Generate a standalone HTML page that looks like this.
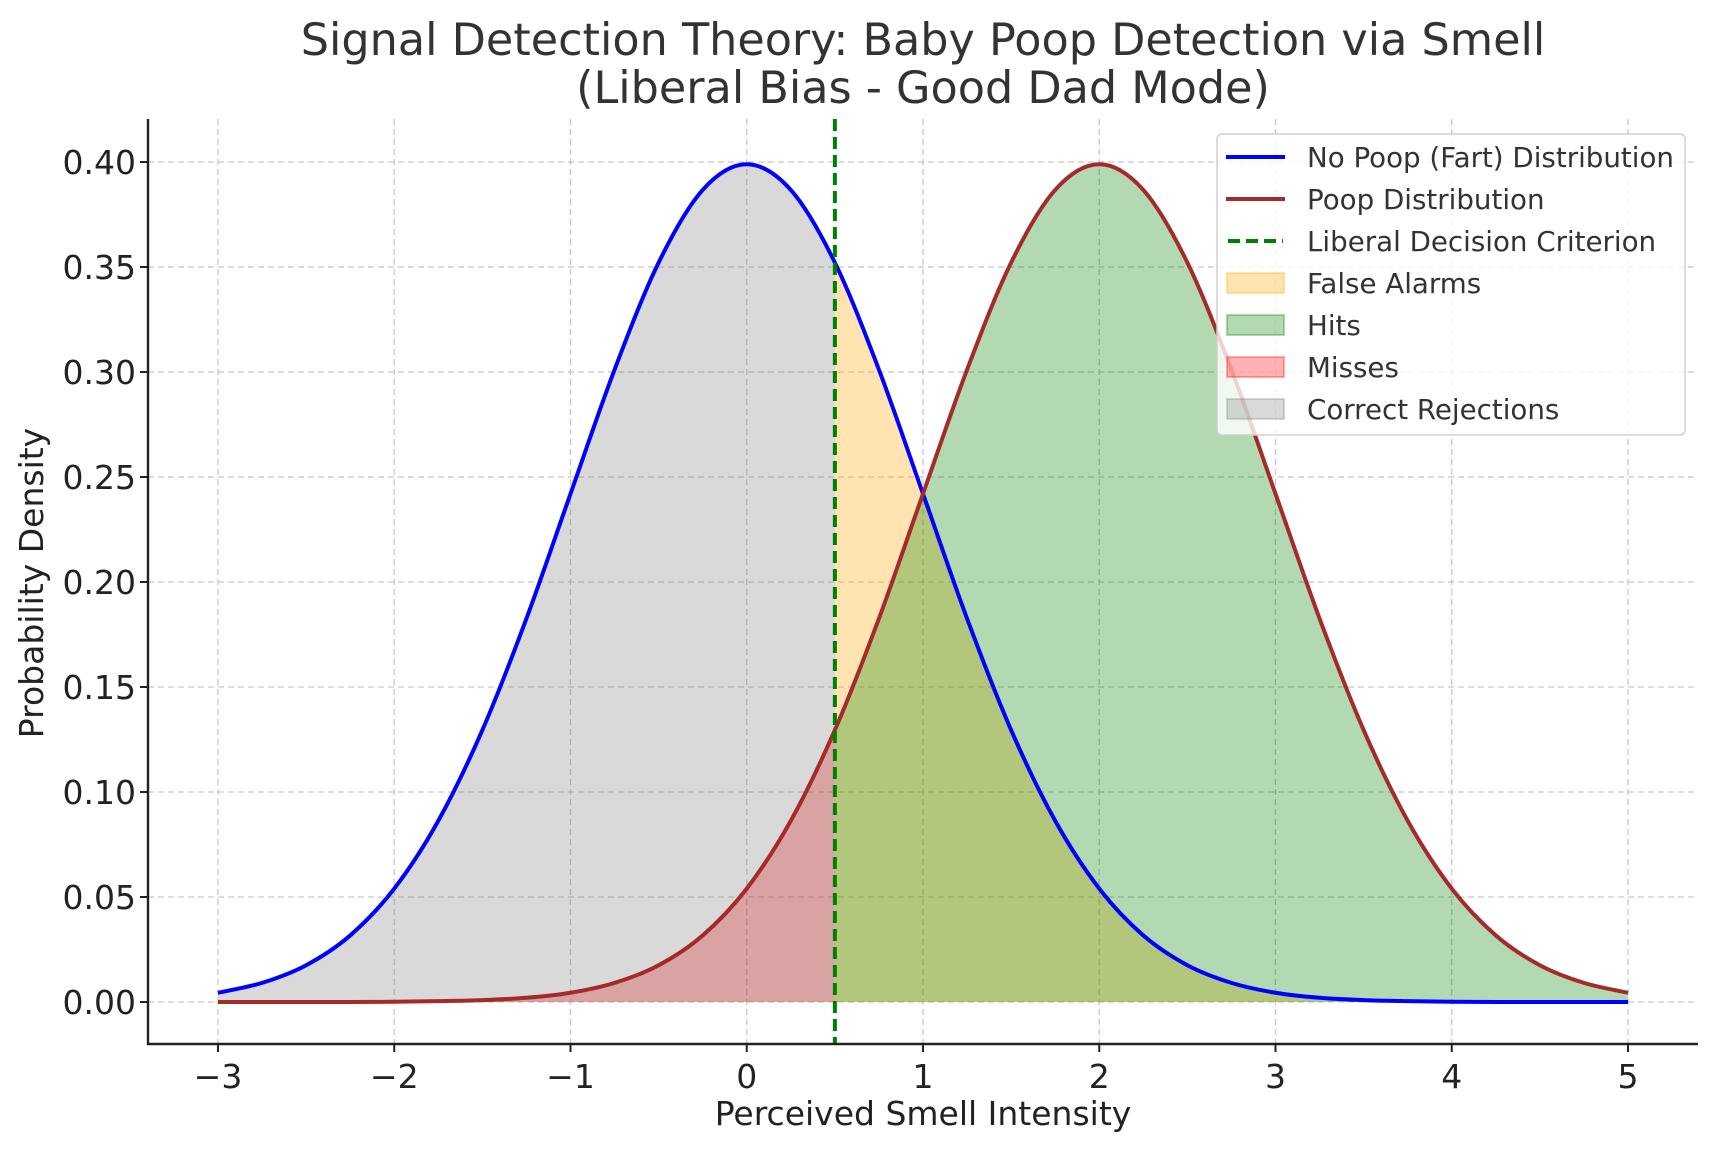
<!DOCTYPE html>
<html><head><meta charset="utf-8"><style>
html,body{margin:0;padding:0;background:#fff}
svg{display:block;font-family:"DejaVu Sans","Liberation Sans",sans-serif}
</style></head><body>
<svg id="chart" width="1718" height="1151" viewBox="0 0 1718 1151">
<text x="923" y="55" text-anchor="middle" font-size="44.5" fill="#333">Signal Detection Theory: Baby Poop Detection via Smell</text>
<text x="923" y="103" text-anchor="middle" font-size="44.5" fill="#333">(Liberal Bias - Good Dad Mode)</text>
<g id="grid"></g><g id="fills"></g><g id="lines"></g><g id="axes"></g>
<text x="923" y="1125" text-anchor="middle" font-size="33" fill="#222">Perceived Smell Intensity</text>
<text transform="translate(43,583) rotate(-90)" text-anchor="middle" font-size="33" fill="#222">Probability Density</text>
<g id="legend"></g>
</svg>
<script>
const xGrid=[-3,-2.75,-2.5,-2.25,-2,-1.75,-1.5,-1.25,-1,-0.75,-0.5,-0.25,0,0.25,0.5,0.75,1,1.25,1.5,1.75,2,2.25,2.5,2.75,3,3.25,3.5,3.75,4,4.25,4.5,4.75,5];
const noPoop=[0.0044,0.0091,0.0175,0.0317,0.0540,0.0863,0.1295,0.1826,0.2420,0.3011,0.3521,0.3867,0.3989,0.3867,0.3521,0.3011,0.2420,0.1826,0.1295,0.0863,0.0540,0.0317,0.0175,0.0091,0.0044,0.0020,0.0009,0.0004,0.0001,0.0000,0.0000,0.0000,0.0000];
const poop=[0.0000,0.0000,0.0000,0.0000,0.0001,0.0004,0.0009,0.0020,0.0044,0.0091,0.0175,0.0317,0.0540,0.0863,0.1295,0.1826,0.2420,0.3011,0.3521,0.3867,0.3989,0.3867,0.3521,0.3011,0.2420,0.1826,0.1295,0.0863,0.0540,0.0317,0.0175,0.0091,0.0044];
const criterion=[0.5];
const xTicks=[-3,-2,-1,0,1,2,3,4,5];
const xTickLabels=["\u22123","\u22122","\u22121","0","1","2","3","4","5"];
const yTicks=[0,0.05,0.1,0.15,0.2,0.25,0.3,0.35,0.4];
const yTickLabels=["0.00","0.05","0.10","0.15","0.20","0.25","0.30","0.35","0.40"];

const L=148,R=1698,T=119,B=1044;
const X=v=>218+(v+3)*176.25;
const Y=v=>1002-v*2100;
const NS="http://www.w3.org/2000/svg";
function mk(tag,attrs,parent){const e=document.createElementNS(NS,tag);for(const k in attrs)e.setAttribute(k,attrs[k]);parent.appendChild(e);return e;}
const grid=document.getElementById('grid'),fills=document.getElementById('fills'),lines=document.getElementById('lines'),axes=document.getElementById('axes'),legend=document.getElementById('legend');

xTicks.forEach((t,i)=>{
  const g=mk('line',{x1:X(t),x2:X(t),y1:T,y2:B,stroke:'#c8c8c8','stroke-width':1.3,'stroke-dasharray':'6,4'},grid);
  
  
  const tk=mk('line',{x1:X(t),x2:X(t),y1:B,y2:B+8,stroke:'#222','stroke-width':2},axes);
  
  
  const tx=mk('text',{x:X(t),y:B+44,'text-anchor':'middle','font-size':33,fill:'#222'},axes);
  tx.textContent=xTickLabels[i];
  
  
});
yTicks.forEach((t,i)=>{
  const g=mk('line',{x1:L,x2:R,y1:Y(t),y2:Y(t),stroke:'#c8c8c8','stroke-width':1.3,'stroke-dasharray':'6,4'},grid);
  
  
  const tk=mk('line',{x1:L-8,x2:L,y1:Y(t),y2:Y(t),stroke:'#222','stroke-width':2},axes);
  
  
  const tx=mk('text',{x:L-12,y:Y(t)+12,'text-anchor':'end','font-size':33,fill:'#222'},axes);
  tx.textContent=yTickLabels[i];
  
  
});
const sp1=mk('line',{x1:L,x2:L,y1:T,y2:B+1,stroke:'#222','stroke-width':2.4},axes);


const sp2=mk('line',{x1:L-1,x2:R,y1:B,y2:B,stroke:'#222','stroke-width':2.4},axes);



function smooth(pts){
  let d=`M${pts[0][0]},${pts[0][1]}`;
  for(let i=0;i<pts.length-1;i++){
    const p0=pts[Math.max(i-1,0)],p1=pts[i],p2=pts[i+1],p3=pts[Math.min(i+2,pts.length-1)];
    const c1=[p1[0]+(p2[0]-p0[0])/6,p1[1]+(p2[1]-p0[1])/6];
    const c2=[p2[0]-(p3[0]-p1[0])/6,p2[1]-(p3[1]-p1[1])/6];
    d+=` C${c1[0]},${c1[1]} ${c2[0]},${c2[1]} ${p2[0]},${p2[1]}`;
  }
  return d;
}
function pts(ys,cond){const p=[];xGrid.forEach((x,i)=>{if(cond(x))p.push([X(x),Y(ys[i])]);});return p;}
function area(ys,cond,color,name){
  const p=pts(ys,cond);
  const d=smooth(p)+` L${p[p.length-1][0]},${Y(0)} L${p[0][0]},${Y(0)} Z`;
  const e=mk('path',{d:d,fill:color,'fill-opacity':0.3,stroke:'none'},fills);
  
  
}
const c=criterion[0];
area(noPoop,x=>x>=c,'#ffa500','false-alarms-area');
area(poop,x=>x>=c,'#008000','hits-area');
area(poop,x=>x<=c,'#ff0000','misses-area');
area(noPoop,x=>x<=c,'#808080','correct-rejections-area');

const l1=mk('path',{d:smooth(pts(noPoop,()=>true)),fill:'none',stroke:'#0000ff','stroke-width':4},lines);


const l2=mk('path',{d:smooth(pts(poop,()=>true)),fill:'none',stroke:'#a52a2a','stroke-width':4},lines);


const cl=mk('line',{x1:X(c),x2:X(c),y1:T,y2:B,stroke:'#008000','stroke-width':4,'stroke-dasharray':'12,6'},lines);



const lb=mk('rect',{x:1217,y:134,width:468,height:301,rx:5,fill:'#fff','fill-opacity':0.8,stroke:'#d0d0d0','stroke-width':1.5},legend);


const items=[
 ['line','#0000ff','No Poop (Fart) Distribution'],
 ['line','#a52a2a','Poop Distribution'],
 ['dash','#008000','Liberal Decision Criterion'],
 ['patch','#ffa500','False Alarms'],
 ['patch','#008000','Hits'],
 ['patch','#ff0000','Misses'],
 ['patch','#808080','Correct Rejections']];
items.forEach((it,i)=>{
  const y=157+i*42;
  const g=mk('g',{},legend);
  
  
  if(it[0]==='line') mk('line',{x1:1226,x2:1285,y1:y,y2:y,stroke:it[1],'stroke-width':4},g);
  else if(it[0]==='dash') mk('line',{x1:1228,x2:1283,y1:y,y2:y,stroke:it[1],'stroke-width':4,'stroke-dasharray':'12,6'},g);
  else mk('rect',{x:1227,y:y-10,width:57,height:20,fill:it[1],'fill-opacity':0.3,stroke:it[1],'stroke-opacity':0.3,'stroke-width':2},g);
  const t=mk('text',{x:1307,y:y+10,'font-size':27.7,fill:'#333'},g);
  t.textContent=it[2];
});
</script>
</body></html>
